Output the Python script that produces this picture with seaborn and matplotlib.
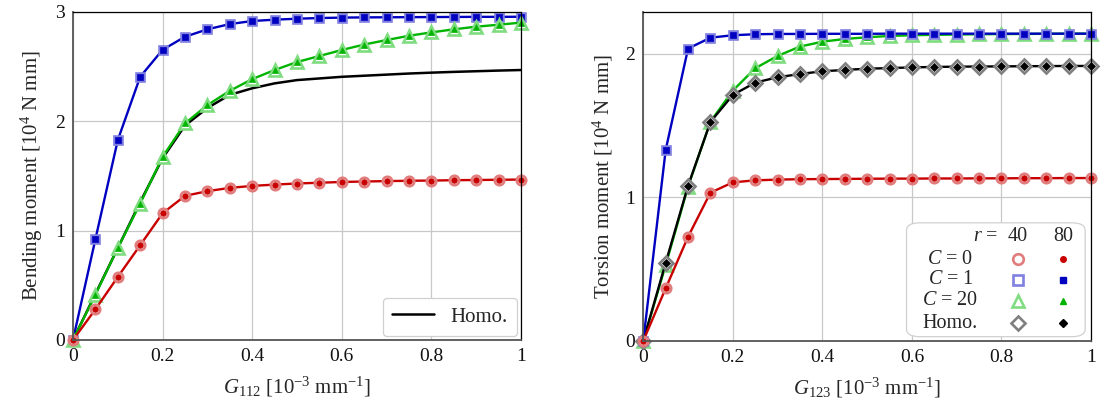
import numpy as np
import pandas as pd
import matplotlib
matplotlib.use("Agg")
import matplotlib.pyplot as plt
import seaborn as sns
from matplotlib.lines import Line2D
from matplotlib.patches import FancyBboxPatch

# ---------------- data ----------------
g = [0.0, 0.05, 0.1, 0.15, 0.2, 0.25, 0.3, 0.35, 0.4, 0.45, 0.5,
     0.55, 0.6, 0.65, 0.7, 0.75, 0.8, 0.85, 0.9, 0.95, 1.0]

# Bending (left)
bend_c0 = [0, 0.28, 0.576, 0.866, 1.158, 1.317, 1.36, 1.39, 1.408, 1.42, 1.43,
           1.437, 1.444, 1.448, 1.452, 1.455, 1.457, 1.46, 1.462, 1.464, 1.466]
bend_c1 = [0, 0.92, 1.826, 2.405, 2.652, 2.771, 2.839, 2.887, 2.915, 2.927, 2.936,
           2.942, 2.946, 2.948, 2.949, 2.95, 2.951, 2.952, 2.953, 2.953, 2.954]
bend_c20 = [0, 0.414, 0.84, 1.247, 1.673, 1.979, 2.146, 2.277, 2.384, 2.467, 2.54,
            2.595, 2.65, 2.70, 2.741, 2.78, 2.811, 2.839, 2.863, 2.881, 2.90]
bend_homo = [0, 0.42, 0.84, 1.26, 1.66, 1.96, 2.12, 2.24, 2.30, 2.345, 2.375,
             2.39, 2.405, 2.415, 2.425, 2.435, 2.443, 2.45, 2.456, 2.462, 2.467]

# Torsion (right)
tors_c0 = [0, 0.366, 0.725, 1.032, 1.104, 1.118, 1.123, 1.126, 1.127, 1.128, 1.129,
           1.13, 1.13, 1.131, 1.131, 1.132, 1.132, 1.133, 1.133, 1.134, 1.134]
tors_c1 = [0, 1.33, 2.036, 2.112, 2.129, 2.136, 2.138, 2.138, 2.139, 2.139, 2.139,
           2.14, 2.14, 2.14, 2.14, 2.14, 2.14, 2.14, 2.14, 2.14, 2.14]
tors_c20 = [0, 0.528, 1.074, 1.527, 1.743, 1.899, 1.985, 2.05, 2.084, 2.103, 2.115,
            2.124, 2.129, 2.132, 2.134, 2.136, 2.137, 2.138, 2.139, 2.14, 2.14]
tors_homo = [0, 0.544, 1.081, 1.525, 1.713, 1.799, 1.836, 1.859, 1.878, 1.887, 1.896,
             1.9, 1.905, 1.908, 1.91, 1.911, 1.912, 1.913, 1.914, 1.915, 1.915]

xticks = [0, 0.2, 0.4, 0.6, 0.8, 1.0]
xtick_labels = ["0", "0.2", "0.4", "0.6", "0.8", "1"]

# ---------------- style ----------------
sns.set_theme(style="white")
plt.rcParams['font.family'] = ['Liberation Serif', 'DejaVu Serif']
plt.rcParams['mathtext.fontset'] = 'custom'
plt.rcParams['mathtext.rm'] = 'Liberation Serif'
plt.rcParams['mathtext.it'] = 'Liberation Serif:italic'
plt.rcParams['mathtext.bf'] = 'Liberation Serif:bold'

styles = {
    "c0": dict(dark="#c80000", light="#e07c7c", marker="o", ms40=6.8, ms80=4.0),
    "c1": dict(dark="#0000c0", light="#8080e0", marker="s", ms40=6.4, ms80=4.0),
    "c20": dict(dark="#00b400", light="#80dc80", marker="^", ms40=8.4, ms80=4.6),
    "homo": dict(dark="#000000", light="#808080", marker="D", ms40=6.8, ms80=4.0),
}

fig = plt.figure(figsize=(11.04, 4.12), dpi=100)
axL = fig.add_axes([0.0661, 0.1748, 0.4058, 0.7968])
axR = fig.add_axes([0.5827, 0.1728, 0.4055, 0.7988])


def draw_series(ax, x, y, key, zorder):
    st = styles[key]
    df = pd.DataFrame({"x": x, "y": y})
    sns.lineplot(data=df, x="x", y="y", ax=ax, color=st["dark"], linewidth=1.7,
                 marker=st["marker"], markersize=st["ms40"],
                 markerfacecolor="white", markeredgecolor=st["light"],
                 markeredgewidth=1.9, clip_on=False, zorder=zorder)
    sns.lineplot(data=df, x="x", y="y", ax=ax, color=st["dark"], linewidth=0,
                 marker=st["marker"], markersize=st["ms80"],
                 markerfacecolor=st["dark"], markeredgecolor=st["dark"],
                 markeredgewidth=0.5, clip_on=False, zorder=zorder + 0.5)


def style_axes(ax, ylim, yticks):
    ax.set_xlim(0, 1)
    ax.set_ylim(*ylim)
    ax.set_xticks(xticks)
    ax.set_xticklabels(xtick_labels)
    ax.set_yticks(yticks)
    ax.set_yticklabels([str(t) for t in yticks])
    ax.grid(True, color="#c8c8c8", linewidth=0.9)
    ax.set_axisbelow(True)
    ax.tick_params(axis="both", length=0, pad=6, labelsize=14, colors="#111111")
    for s in ["left", "bottom"]:
        ax.spines[s].set_color("#555555")
        ax.spines[s].set_linewidth(1.3)
    for s in ["top", "right"]:
        ax.spines[s].set_color("#000000")
        ax.spines[s].set_linewidth(0.9)
    for s in ax.spines.values():
        s.set_zorder(10)


# ---- left ----
draw_series(axL, g, bend_c1, "c1", 3)
sns.lineplot(x=g, y=bend_homo, ax=axL, color="black", linewidth=1.8, zorder=4,
             label="Homo.")
draw_series(axL, g, bend_c20, "c20", 5)
draw_series(axL, g, bend_c0, "c0", 6)
style_axes(axL, (0, 3), [0, 1, 2, 3])
axL.set_xlabel(r"$G_{112}$ [$10^{-3}$ mm$^{-1}$]", fontsize=15, labelpad=7)
axL.set_ylabel(r"Bending moment [$10^{4}$ N mm]", fontsize=15, labelpad=7)
handles = [Line2D([], [], color="black", linewidth=1.8)]
legL = axL.legend(handles, ["Homo."], loc="lower right", fontsize=15,
                  frameon=True, fancybox=True, edgecolor="#d0d0d0",
                  framealpha=1, handlelength=2.0, borderpad=0.45,
                  borderaxespad=0, bbox_to_anchor=(0.991, 0.012))
legL.get_frame().set_linewidth(0.9)
legL.set_zorder(20)

# ---- right ----
draw_series(axR, g, tors_c20, "c20", 3)
draw_series(axR, g, tors_homo, "homo", 4)
draw_series(axR, g, tors_c1, "c1", 5)
draw_series(axR, g, tors_c0, "c0", 6)
style_axes(axR, (0, 2.293), [0, 1, 2])
axR.set_xlabel(r"$G_{123}$ [$10^{-3}$ mm$^{-1}$]", fontsize=15, labelpad=7)
axR.set_ylabel(r"Torsion moment [$10^{4}$ N mm]", fontsize=15, labelpad=7)
if axR.get_legend():
    axR.get_legend().remove()

# manual table-style legend on right
tr = axR.transAxes
box = FancyBboxPatch((0.588, 0.0125), 0.399, 0.346, transform=tr,
                     boxstyle="round,pad=0,rounding_size=0.03",
                     facecolor="white", edgecolor="#d0d0d0", linewidth=0.9,
                     zorder=20, clip_on=False, mutation_aspect=329 / 448)
axR.add_patch(box)
fs = 14.5
axR.text(0.793, 0.318, r"$r$ =", transform=tr, ha="right", va="center",
         fontsize=fs, zorder=21)
axR.text(0.837, 0.318, "40", transform=tr, ha="center", va="center",
         fontsize=fs, zorder=21)
axR.text(0.937, 0.318, "80", transform=tr, ha="center", va="center",
         fontsize=fs, zorder=21)
rows = [("c0", r"$C$ = 0", 0.248), ("c1", r"$C$ = 1", 0.185),
        ("c20", r"$C$ = 20", 0.122), ("homo", "Homo.", 0.053)]
for key, lab, yy in rows:
    st = styles[key]
    axR.text(0.686, yy, lab, transform=tr, ha="center", va="center",
             fontsize=fs, zorder=21)
    axR.add_line(Line2D([0.838], [yy], transform=tr, linestyle="none",
                        marker=st["marker"], markersize=st["ms40"] + 0.8,
                        markerfacecolor="white", markeredgecolor=st["light"],
                        markeredgewidth=1.9, zorder=21, clip_on=False))
    axR.add_line(Line2D([0.937], [yy], transform=tr, linestyle="none",
                        marker=st["marker"], markersize=st["ms80"],
                        markerfacecolor=st["dark"], markeredgecolor=st["dark"],
                        zorder=21, clip_on=False))

fig.savefig("out.png", dpi=100)
